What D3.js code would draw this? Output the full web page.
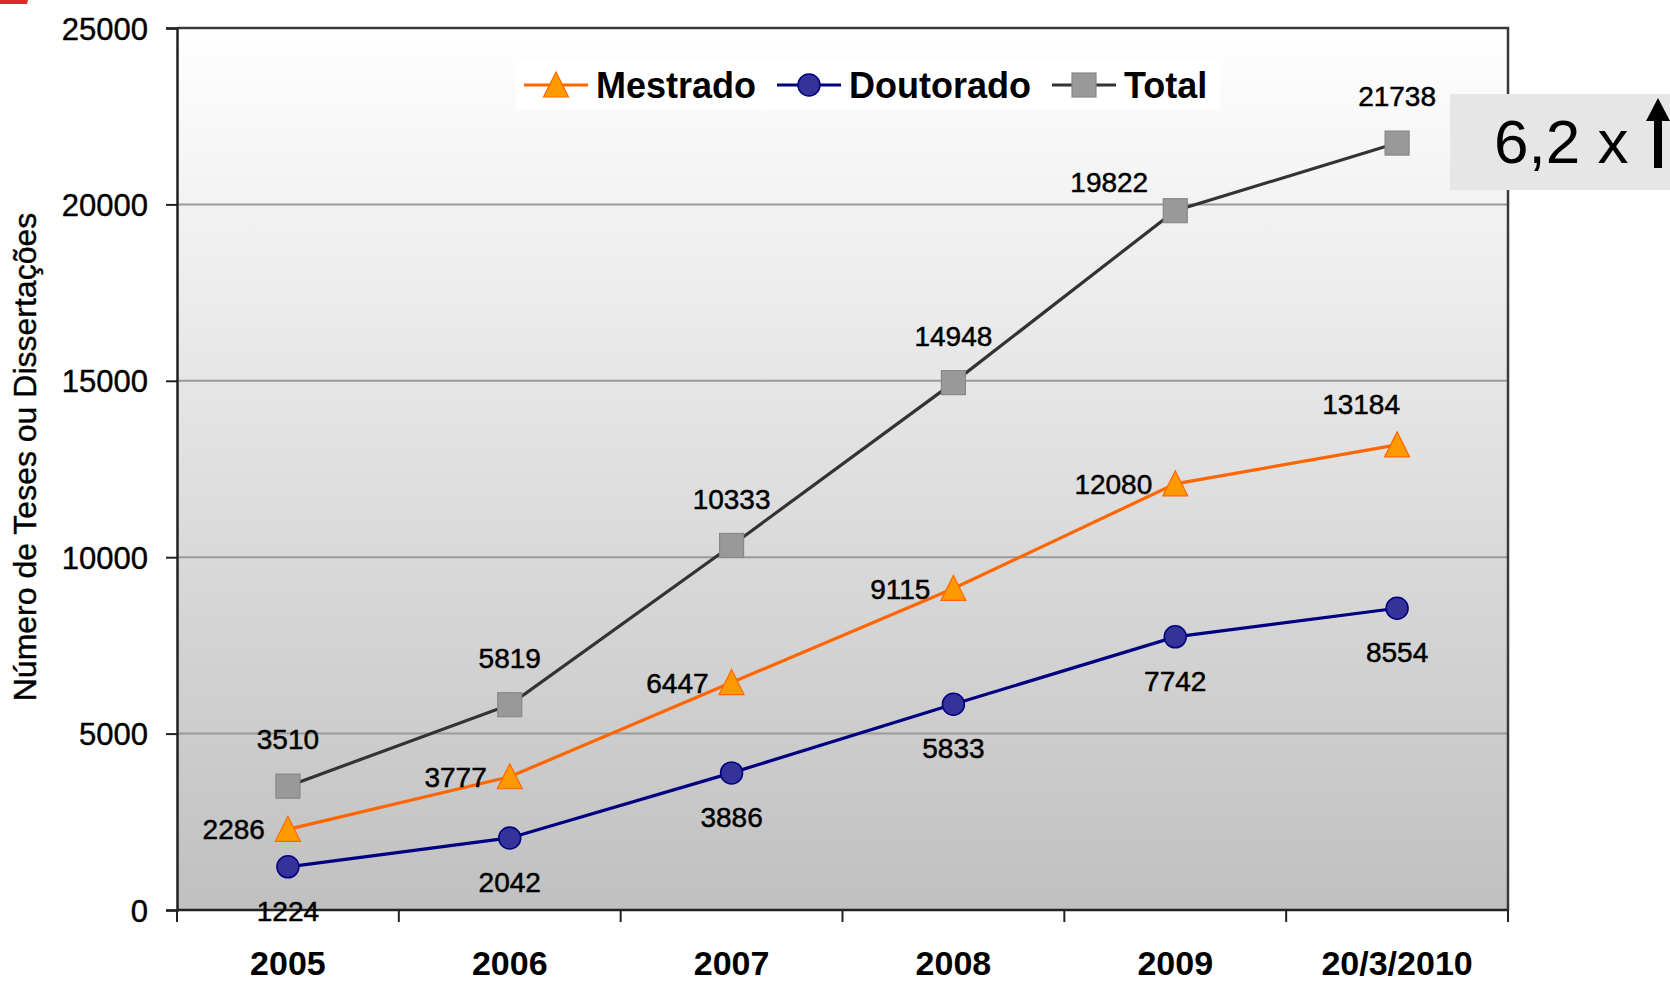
<!DOCTYPE html>
<html>
<head>
<meta charset="utf-8">
<script src="https://cdn.jsdelivr.net/npm/d3@7"></script>
<style>
  html, body { margin: 0; padding: 0; background: #ffffff; }
  svg { display: block; font-family: "Liberation Sans", Arial, sans-serif; }
</style>
</head>
<body>
<svg id="chart" width="1670" height="983"></svg>
<script>
// ---- data ----
const categories = ["2005", "2006", "2007", "2008", "2009", "20/3/2010"];
const mestrado   = [2286, 3777, 6447, 9115, 12080, 13184];
const doutorado  = [1224, 2042, 3886, 5833, 7742, 8554];
const total      = [3510, 5819, 10333, 14948, 19822, 21738];
const yTicks     = [0, 5000, 10000, 15000, 20000, 25000];
const seriesNames = ["Mestrado", "Doutorado", "Total"];
const yTitle = "Número de Teses ou Dissertações";
const growthText = "6,2 x";

// ---- layout ----
const plot = { left: 177, top: 28, right: 1508, bottom: 910 };
const svg = d3.select("#chart");

const x = d3.scaleBand().domain(categories).range([plot.left, plot.right]).padding(0);
const y = d3.scaleLinear().domain([0, 25000]).range([plot.bottom, plot.top]);
const cx = c => x(c) + x.bandwidth() / 2;

// top-left red fragment
svg.append("path").attr("d", "M0,0 L28,0 L27,4 L0,4 Z").attr("fill", "#e02a2a");

// background gradient
const defs = svg.append("defs");
const grad = defs.append("linearGradient").attr("id", "bg").attr("x1", 0).attr("y1", 0).attr("x2", 0).attr("y2", 1);
grad.append("stop").attr("offset", "0%").attr("stop-color", "#ffffff");
grad.append("stop").attr("offset", "100%").attr("stop-color", "#c0c0c0");

svg.append("rect")
  .attr("x", plot.left).attr("y", plot.top)
  .attr("width", plot.right - plot.left).attr("height", plot.bottom - plot.top)
  .attr("fill", "url(#bg)");

// gridlines
svg.append("g").selectAll("line").data(yTicks.filter(t => t > 0 && t < 25000)).join("line")
  .attr("x1", plot.left).attr("x2", plot.right)
  .attr("y1", d => y(d)).attr("y2", d => y(d))
  .attr("stroke", "#9a9a9a").attr("stroke-width", 2);

// plot border top/right
svg.append("path")
  .attr("d", `M${plot.left},${plot.top} L${plot.right},${plot.top} L${plot.right},${plot.bottom}`)
  .attr("fill", "none").attr("stroke", "#3a3a3a").attr("stroke-width", 2.5);

// y axis
const yAxis = d3.axisLeft(y).tickValues(yTicks).tickSize(11).tickPadding(18).tickFormat(d3.format("d"));
const gy = svg.append("g").attr("transform", `translate(${plot.left},0)`).call(yAxis);
gy.select(".domain").attr("stroke", "#222").attr("stroke-width", 2.5);
gy.selectAll(".tick line").attr("stroke", "#222").attr("stroke-width", 2);
gy.selectAll(".tick text").attr("font-size", 31).attr("fill", "#000")
  .attr("stroke", "#000").attr("stroke-width", 0.4)
  .attr("font-family", "Liberation Sans, Arial, sans-serif").attr("dy", "0.36em");

// x axis (ticks at band boundaries)
const gx = svg.append("g");
gx.append("line").attr("x1", plot.left).attr("x2", plot.right)
  .attr("y1", plot.bottom).attr("y2", plot.bottom)
  .attr("stroke", "#222").attr("stroke-width", 2.5);
const bounds = categories.map(c => x(c)).concat([plot.right]);
gx.selectAll("line.tk").data(bounds).join("line").attr("class", "tk")
  .attr("x1", d => d).attr("x2", d => d)
  .attr("y1", plot.bottom).attr("y2", plot.bottom + 12)
  .attr("stroke", "#222").attr("stroke-width", 2);
gx.selectAll("text").data(categories).join("text")
  .attr("x", d => cx(d)).attr("y", 975)
  .attr("text-anchor", "middle").attr("font-size", 34).attr("font-weight", "bold")
  .attr("fill", "#000").text(d => d);

// y title
svg.append("text")
  .attr("transform", `translate(36,457) rotate(-90)`)
  .attr("text-anchor", "middle").attr("font-size", 32).attr("fill", "#000")
  .attr("stroke", "#000").attr("stroke-width", 0.4)
  .text(yTitle);

// series
const styles = {
  Mestrado:  { line: "#ff6600", fill: "#ff9900", stroke: "#ff6600", shape: "tri" },
  Doutorado: { line: "#000080", fill: "#333399", stroke: "#000080", shape: "circ" },
  Total:     { line: "#333333", fill: "#999999", stroke: "#888888", shape: "sq" }
};
const seriesData = { Mestrado: mestrado, Doutorado: doutorado, Total: total };

function drawMarker(g, shape, st) {
  if (shape === "tri") {
    g.append("path").attr("d", "M0,-13 L12.5,12 L-12.5,12 Z")
      .attr("fill", st.fill).attr("stroke", st.stroke).attr("stroke-width", 1.2);
  } else if (shape === "circ") {
    g.append("circle").attr("r", 11).attr("fill", st.fill).attr("stroke", st.stroke).attr("stroke-width", 1.5);
  } else {
    g.append("rect").attr("x", -12).attr("y", -12).attr("width", 24).attr("height", 24)
      .attr("fill", st.fill).attr("stroke", st.stroke).attr("stroke-width", 1.2);
  }
}

const line = d3.line().x(d => cx(d.c)).y(d => y(d.v));
["Total", "Mestrado", "Doutorado"].forEach(name => {
  const pts = categories.map((c, i) => ({ c, v: seriesData[name][i] }));
  const st = styles[name];
  svg.append("path").datum(pts).attr("d", line)
    .attr("fill", "none").attr("stroke", st.line).attr("stroke-width", 3.2);
  pts.forEach(p => {
    const g = svg.append("g").attr("transform", `translate(${cx(p.c)},${y(p.v)})`);
    drawMarker(g, st.shape, st);
  });
});

// data labels (placement rules relative to each point)
function place(name, i) {
  if (name === "Total") {
    if (i === 4) return { dx: -66, dy: -29, anchor: "middle" };
    return { dx: 0, dy: -47, anchor: "middle" };
  }
  if (name === "Mestrado") {
    if (i === 5) return { dx: -36, dy: -41, anchor: "middle" };
    return { dx: -23, dy: 0, anchor: "end" };
  }
  return { dx: 0, dy: 44, anchor: "middle" };
}
seriesNames.forEach(name => {
  seriesData[name].forEach((v, i) => {
    const p = place(name, i);
    svg.append("text")
      .attr("x", cx(categories[i]) + p.dx).attr("y", y(v) + p.dy)
      .attr("dy", "0.36em").attr("text-anchor", p.anchor)
      .attr("font-size", 28).attr("fill", "#000")
      .attr("stroke", "#000").attr("stroke-width", 0.5)
      .text(v);
  });
});

// legend
const lg = svg.append("g");
lg.append("rect").attr("x", 516).attr("y", 61).attr("width", 704).attr("height", 49).attr("fill", "#ffffff");
const legendX = [524, 777, 1052];
seriesNames.forEach((name, i) => {
  const st = styles[name];
  const x0 = legendX[i];
  lg.append("line").attr("x1", x0).attr("x2", x0 + 64).attr("y1", 85).attr("y2", 85)
    .attr("stroke", st.line).attr("stroke-width", 3);
  const g = lg.append("g").attr("transform", `translate(${x0 + 32},85)`);
  drawMarker(g, st.shape, st);
  lg.append("text").attr("x", x0 + 72).attr("y", 98)
    .attr("font-size", 36).attr("font-weight", "bold").attr("fill", "#000").text(name);
});

// growth annotation
svg.append("rect").attr("x", 1450).attr("y", 94).attr("width", 220).attr("height", 96).attr("fill", "#e6e6e6");
svg.append("text").attr("x", 1494).attr("y", 163).attr("font-size", 62).attr("fill", "#000").text(growthText);
svg.append("path")
  .attr("d", "M1658,98 L1670,121 L1662,121 L1662,168 L1654,168 L1654,121 L1646,121 Z")
  .attr("fill", "#000");
</script>
</body>
</html>
